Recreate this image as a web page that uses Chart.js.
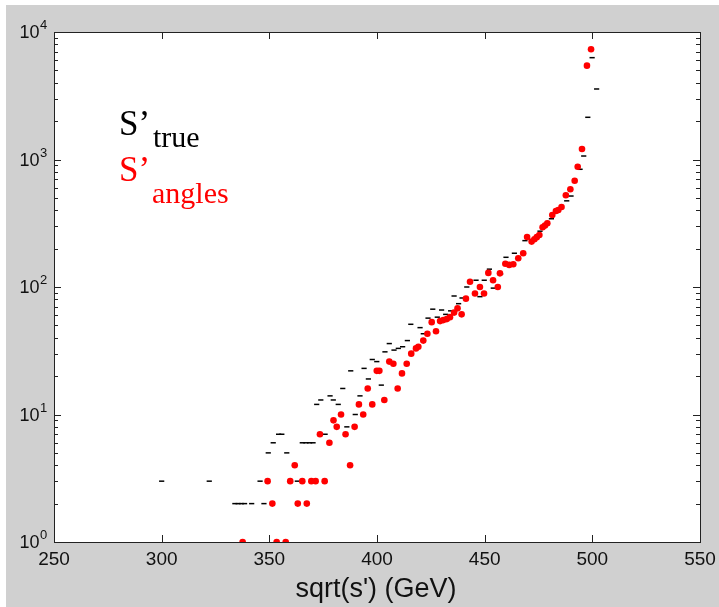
<!DOCTYPE html>
<html>
<head>
<meta charset="utf-8">
<script src="https://cdn.jsdelivr.net/npm/chart.js@4.4.1/dist/chart.umd.min.js"></script>
<style>
  html, body { margin: 0; padding: 0; background: #fff; }
  canvas { display: block; }
</style>
</head>
<body>
<canvas id="chart" width="719" height="607"></canvas>
<script>
// ─── Data ──────────────────────────────────────────────────────────────

// S'angles (red dots)
const anglesX = [
  337.6, 349.2, 351.4, 353.4, 357.6, 359.7, 361.8, 363.2, 365.3, 367.4,
  369.5, 371.5, 373.5, 375.7, 377.9, 379.8, 381.3, 383.3, 385.4, 387.5,
  389.6, 391.6, 393.6, 395.7, 397.8, 399.9, 401.1, 403.4, 405.7, 407.6,
  409.6, 411.6, 413.8, 415.9, 418.1, 419.2, 421.5, 423.4, 425.4, 427.4,
  429.3, 430.8, 432.4, 433.9, 435.8, 437.4, 439.3, 441.3, 443.2, 445.5,
  447.8, 449.7, 451.7, 453.9, 456.1, 457.1, 459.6, 461.4, 463.3, 465.6,
  467.9, 469.7, 471.8, 473.1, 474.2, 475.4, 476.9, 478.0, 479.1, 481.4,
  483.1, 484.2, 485.7, 487.7, 489.8, 491.8, 493.2, 495.2, 497.5, 499.4
];
const anglesY = [
  1, 3, 2, 1, 1, 3, 4, 2, 3, 2,
  3, 3, 7, 3, 6, 9, 8, 10, 7, 4,
  8, 12, 10, 16, 12, 22, 22, 13, 26, 25,
  16, 21, 25, 30, 33, 34, 38, 43, 53, 45,
  54, 55, 56, 58, 63, 68, 61, 81, 110, 89,
  100, 89, 129, 113, 100, 128, 152, 149, 151, 168,
  184, 247, 227, 237, 246, 256, 294, 303, 316, 367,
  395, 402, 424, 525, 584, 682, 878, 1208, 5445, 7318
];

// S'true (black dashes)
const trueX = [
  300.0, 322.1, 334.0, 335.5, 337.0, 338.5, 341.8, 345.7, 347.5, 349.5,
  351.8, 354.3, 355.8, 358.1, 363.0, 365.3, 367.0, 368.7, 370.3, 372.0,
  373.9, 375.9, 378.2, 379.7, 382.0, 384.1, 386.0, 387.8, 389.9, 392.1,
  394.0, 396.0, 397.8, 399.9, 402.0, 403.7, 405.7, 407.9, 409.9, 411.9,
  414.1, 415.7, 420.0, 421.5, 423.7, 425.9, 428.0, 430.0, 431.9, 434.2,
  435.8, 437.9, 439.5, 441.7, 446.0, 447.8, 449.8, 452.2, 454.0, 457.4,
  459.9, 463.8, 468.7, 475.7, 481.0, 488.1, 490.1, 494.3, 496.0, 497.9,
  499.9, 502.0
];
const trueY = [
  3, 3, 2, 2, 2, 2, 2, 3, 2, 5,
  6, 7, 7, 5, 3, 6, 6, 6, 6, 12,
  13, 7, 14, 13, 12, 16, 8, 22, 10, 14,
  23, 19, 27, 26, 17, 31, 36, 32, 33, 34,
  38, 51, 48, 43, 57, 67, 58, 66, 61, 65,
  85, 74, 82, 100, 113, 84, 113, 138, 98, 126,
  171, 184, 231, 274, 343, 474, 517, 838, 1065, 2143,
  6290, 3573
];

const xTicks = [250, 300, 350, 400, 450, 500, 550];
const yExponents = [0, 1, 2, 3, 4];
const xTitle = "sqrt(s') (GeV)";

// ─── Style ─────────────────────────────────────────────────────────────

const GRAY = '#d0d0d0';
const INK = '#111';
const SANS = '"Liberation Sans", Arial, sans-serif';
const SERIF = '"Liberation Serif", "Times New Roman", serif';

function toPoints(xs, ys) {
  return xs.map((x, i) => ({ x, y: ys[i] }));
}

// Axes box, inward ticks, labels and the in-plot legend text
const framePlugin = {
  id: 'frame',
  beforeDraw(chart) {
    const { ctx, chartArea: a } = chart;
    ctx.save();
    ctx.fillStyle = '#fff';
    ctx.fillRect(0, 0, chart.width, chart.height);
    ctx.fillStyle = GRAY;
    ctx.fillRect(6, 5, chart.width - 6, chart.height - 5);
    ctx.fillStyle = '#fff';
    ctx.fillRect(a.left, a.top, a.right - a.left, a.bottom - a.top);
    ctx.restore();
  },
  afterDraw(chart) {
    const { ctx, chartArea: a } = chart;
    const xs = chart.scales.x, ys = chart.scales.y;
    ctx.save();
    ctx.strokeStyle = '#222';
    ctx.lineWidth = 1;
    ctx.strokeRect(a.left + 0.5, a.top + 0.5, a.right - a.left, a.bottom - a.top);

    ctx.beginPath();
    // x ticks, bottom and top
    for (const v of xTicks) {
      const px = Math.round(xs.getPixelForValue(v)) + 0.5;
      ctx.moveTo(px, a.bottom); ctx.lineTo(px, a.bottom - 7);
      ctx.moveTo(px, a.top); ctx.lineTo(px, a.top + 7);
    }
    // y ticks, major + minor, left and right
    for (const e of yExponents) {
      for (let k = 1; k <= 9; k++) {
        if (e === 4 && k > 1) break;
        const v = k * Math.pow(10, e);
        const py = Math.round(ys.getPixelForValue(v)) + 0.5;
        const len = k === 1 ? 7 : 4;
        ctx.moveTo(a.left, py); ctx.lineTo(a.left + len, py);
        ctx.moveTo(a.right, py); ctx.lineTo(a.right - len, py);
      }
    }
    ctx.stroke();

    // x tick labels
    ctx.fillStyle = INK;
    ctx.font = '19px ' + SANS;
    ctx.textAlign = 'center';
    ctx.textBaseline = 'alphabetic';
    for (const v of xTicks) {
      ctx.fillText(String(v), xs.getPixelForValue(v), a.bottom + 23);
    }

    // y tick labels: 10 with superscript exponent
    for (const e of yExponents) {
      const py = ys.getPixelForValue(Math.pow(10, e));
      ctx.font = '18px ' + SANS;
      ctx.textAlign = 'right';
      ctx.fillText('10', 39.5, py + 6);
      ctx.font = '13px ' + SANS;
      ctx.textAlign = 'left';
      ctx.fillText(String(e), 40, py - 3);
    }

    // x title
    ctx.font = '27px ' + SANS;
    ctx.textAlign = 'center';
    ctx.fillText(xTitle, 376, 597);

    // legend text
    ctx.textAlign = 'left';
    ctx.fillStyle = '#000';
    ctx.font = '35px ' + SERIF;
    ctx.fillText('S\u2019', 119, 135);
    ctx.font = '30px ' + SERIF;
    ctx.fillText('true', 153, 147);
    ctx.fillStyle = '#ff0000';
    ctx.font = '35px ' + SERIF;
    ctx.fillText('S\u2019', 119, 181);
    ctx.font = '30px ' + SERIF;
    ctx.fillText('angles', 152, 203);
    ctx.restore();
  }
};

// ─── Chart ─────────────────────────────────────────────────────────────

new Chart(document.getElementById('chart').getContext('2d'), {
  type: 'scatter',
  data: {
    datasets: [
      {
        label: "S'angles",
        data: toPoints(anglesX, anglesY),
        pointStyle: 'circle',
        pointRadius: 3.3,
        pointBorderWidth: 0,
        pointBackgroundColor: '#ff0000',
        pointBorderColor: '#ff0000',
      },
      {
        label: "S'true",
        data: toPoints(trueX, trueY),
        pointStyle: 'line',
        pointRadius: 2.6,
        pointBorderWidth: 1.5,
        pointBorderColor: '#000',
        pointBackgroundColor: '#000',
      },
    ]
  },
  options: {
    responsive: false,
    devicePixelRatio: 1,
    animation: false,
    events: [],
    layout: { padding: { left: 54, right: 19, top: 32, bottom: 65 } },
    plugins: {
      legend: { display: false },
      tooltip: { enabled: false },
    },
    scales: {
      x: { type: 'linear', min: 250, max: 550, display: false },
      y: { type: 'logarithmic', min: 1, max: 10000, display: false },
    },
  },
  plugins: [framePlugin],
});
</script>
</body>
</html>
